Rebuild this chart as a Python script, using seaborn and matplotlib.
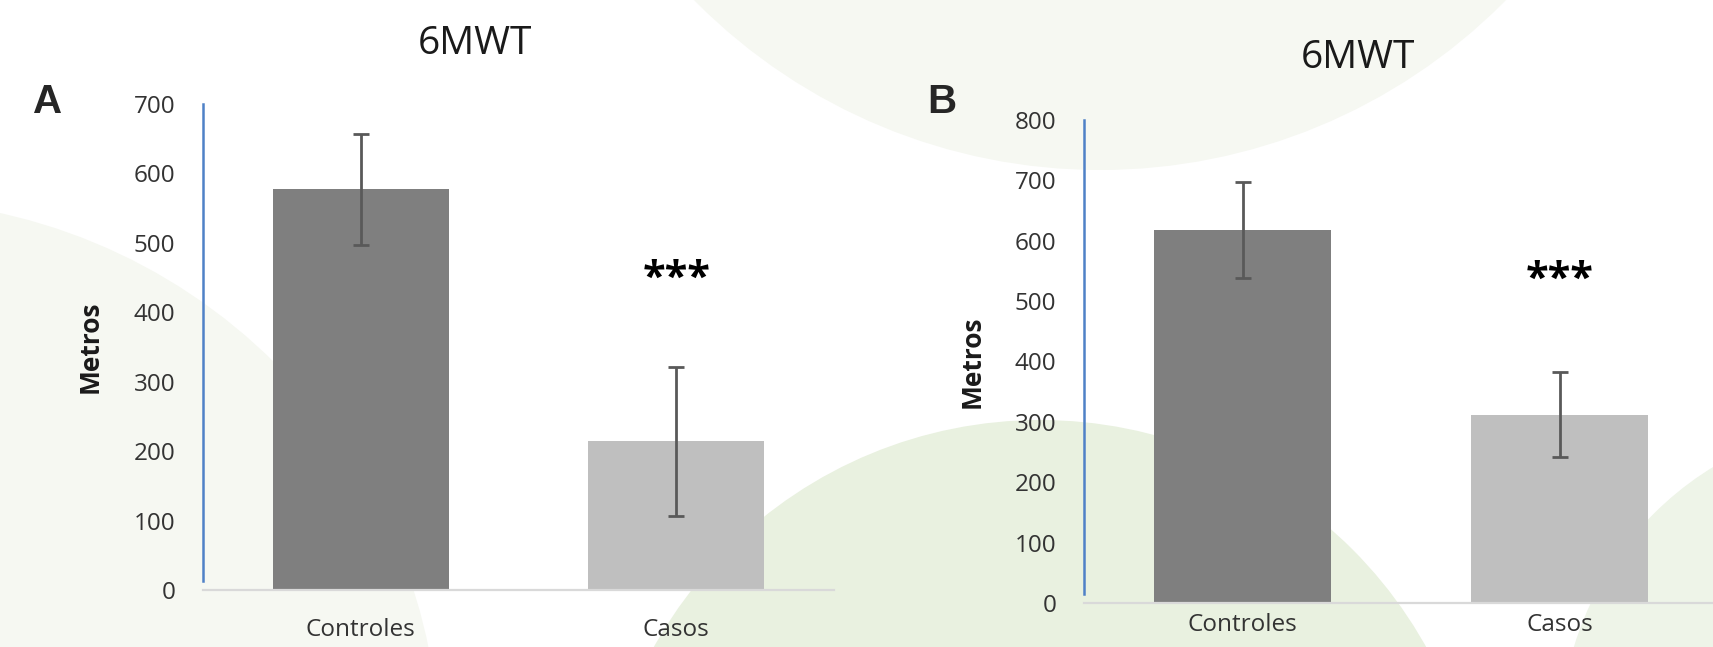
import matplotlib
matplotlib.use("Agg")
import matplotlib.pyplot as plt
import seaborn as sns
import pandas as pd
from matplotlib.patches import Circle

# ---------------- data ----------------
categories = ["Controles", "Casos"]
means_a = [577, 214]
errs_a = [80, 107]
means_b = [618, 312]
errs_b = [80, 71]
yticks_a = [0, 100, 200, 300, 400, 500, 600, 700]
yticks_b = [0, 100, 200, 300, 400, 500, 600, 700, 800]
sig_label = "***"
sig_y_a = 448
sig_y_b = 535
title_text = "6MWT"
ylabel_text = "Metros"
panel_labels = ["A", "B"]
bar_colors = ["#7f7f7f", "#bfbfbf"]

# ---------------- style ----------------
sns.set_theme(style="white")
plt.rcParams['font.family'] = ['Open Sans', 'DejaVu Sans']

W, H = 1713, 647
fig = plt.figure(figsize=(W / 100, H / 100), dpi=100, facecolor="white")

# background decoration (pale circles)
bg = fig.add_axes([0, 0, 1, 1], zorder=-10)
bg.set_xlim(0, W)
bg.set_ylim(H, 0)
bg.axis("off")
bg.add_patch(Circle((-120, 760), 560, color="#f6f8f2", lw=0))
bg.add_patch(Circle((1100, -400), 570, color="#f6f8f2", lw=0))
bg.add_patch(Circle((1040, 862), 442, color="#e9f1e0", lw=0))
bg.add_patch(Circle((1880, 740), 320, color="#eef4e8", lw=0))


def px_axes(left, top, right, bottom):
    return fig.add_axes([left / W, 1 - bottom / H, (right - left) / W, (bottom - top) / H])


def draw_panel(ax, means, errs, yticks, sig_y, lab_x, xpad):
    df = pd.DataFrame({"cat": categories, "val": means})
    sns.barplot(data=df, x="cat", y="val", hue="cat", palette=bar_colors,
                width=0.558, saturation=1, legend=False, ax=ax, errorbar=None,
                linewidth=0)
    ax.errorbar(categories, means, yerr=errs, fmt="none", ecolor="#595959",
                elinewidth=2, capsize=5.5, capthick=2, zorder=5)
    ax.set_facecolor("none")
    ax.set_xlim(-0.5, 1.5)
    ax.set_ylim(yticks[0], yticks[-1])
    ax.set_yticks(yticks)
    ax.set_xlabel("")
    ax.set_ylabel(ylabel_text, fontsize=19, fontweight="bold", color="#1a1a1a")
    ax.yaxis.set_label_coords(lab_x, 0.5)
    for s in ["top", "right"]:
        ax.spines[s].set_visible(False)
    ax.spines["left"].set_color("#4f81c7")
    ax.spines["left"].set_linewidth(1.8)
    ax.spines["left"].set_bounds(yticks[-1] * 0.018, yticks[-1])
    ax.spines["bottom"].set_color("#d9d9d9")
    ax.spines["bottom"].set_linewidth(1.6)
    ax.tick_params(axis="y", length=0, pad=20, labelsize=17.5, labelcolor="#333333")
    ax.tick_params(axis="x", which="major", length=0, pad=xpad, labelsize=17.5,
                   labelcolor="#333333")
    ax.set_xticks([-0.5, 0.5, 1.5], minor=True)
    ax.tick_params(axis="x", which="minor", direction="in", length=6,
                   width=1.5, color="#d9d9d9")
    ax.text(1, sig_y, sig_label, ha="center", va="center", fontsize=30,
            fontweight="bold", color="black")


ax_a = px_axes(203, 104, 834, 590)
draw_panel(ax_a, means_a, errs_a, yticks_a, sig_y_a, -0.157, 20.5)
ax_b = px_axes(1084, 120, 1718, 603)
draw_panel(ax_b, means_b, errs_b, yticks_b, sig_y_b, -0.155, 7)

# titles and panel letters
fig.text(475 / W, 1 - 54 / H, title_text, ha="center", va="baseline",
         fontsize=28, color="#1a1a1a")
fig.text(1358 / W, 1 - 68 / H, title_text, ha="center", va="baseline",
         fontsize=28, color="#1a1a1a")
fig.text(48 / W, 1 - 113 / H, panel_labels[0], ha="center", va="baseline",
         fontsize=29, fontweight="bold", family=["Liberation Sans", "DejaVu Sans"])
fig.text(942 / W, 1 - 113 / H, panel_labels[1], ha="center", va="baseline",
         fontsize=29, fontweight="bold", family=["Liberation Sans", "DejaVu Sans"])

fig.savefig("out.png", dpi=100, facecolor=fig.get_facecolor())
